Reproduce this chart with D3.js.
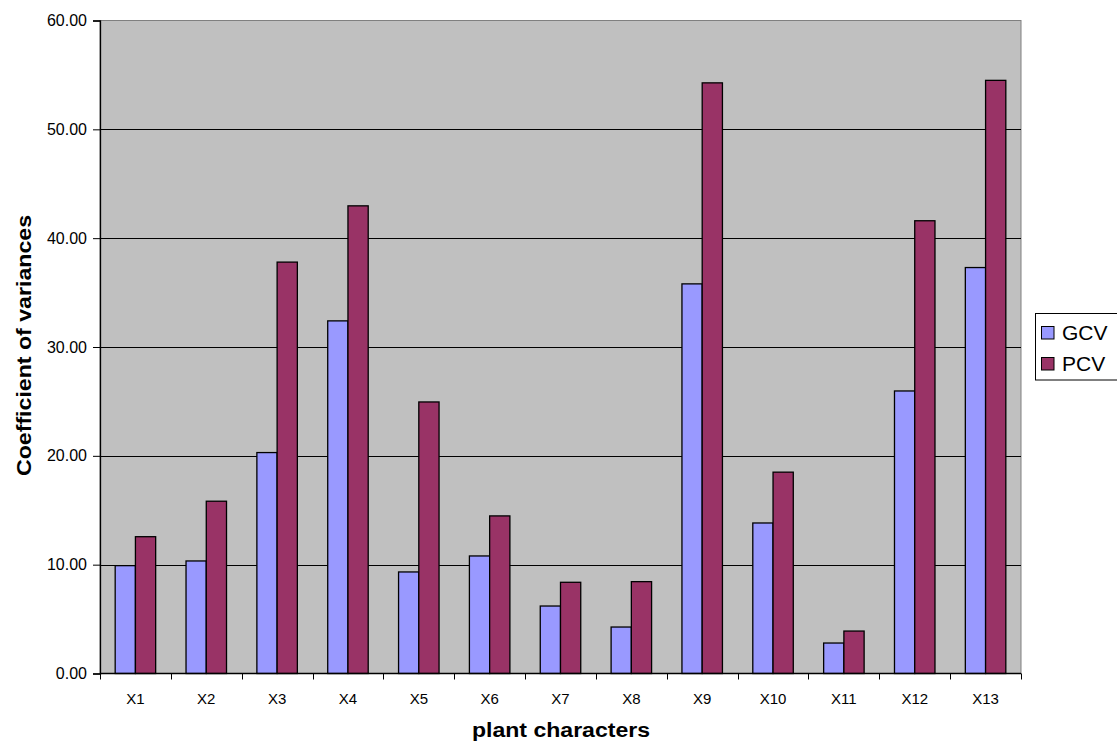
<!DOCTYPE html>
<html>
<head>
<meta charset="utf-8">
<script src="https://cdn.jsdelivr.net/npm/d3@7"></script>
<style>
  html, body { margin: 0; padding: 0; background: #ffffff; }
  svg { display: block; font-family: "Liberation Sans", Arial, sans-serif; }
</style>
</head>
<body>
<svg id="chart" width="1117" height="745"></svg>
<script>
// Plant characters and their coefficients of variation
const categories = ["X1","X2","X3","X4","X5","X6","X7","X8","X9","X10","X11","X12","X13"];
const gcv = [9.91, 10.34, 20.3, 32.4, 9.33, 10.8, 6.2, 4.27, 35.8, 13.83, 2.8, 25.96, 37.3];
const pcv = [12.57, 15.83, 37.8, 42.97, 24.95, 14.48, 8.38, 8.44, 54.27, 18.5, 3.9, 41.6, 54.5];
const seriesNames = ["GCV", "PCV"];
const seriesColors = ["#9999FF", "#993366"];
const yTicks = [0, 10, 20, 30, 40, 50, 60];

const svg = d3.select("#chart");
const plot = { left: 100, top: 20.5, right: 1021, bottom: 673.5 };

const x = d3.scaleBand().domain(categories).range([plot.left, plot.right]);
const sub = d3.scaleBand().domain(seriesNames).range([0, x.bandwidth()])
  .paddingInner(0).paddingOuter(0.75);
const y = d3.scaleLinear().domain([0, 60]).range([plot.bottom, plot.top]);

// plot background
svg.append("rect")
  .attr("x", plot.left).attr("y", plot.top)
  .attr("width", plot.right - plot.left).attr("height", plot.bottom - plot.top)
  .attr("fill", "#C0C0C0").attr("stroke", "#808080").attr("stroke-width", 1);

// horizontal gridlines
svg.append("g").selectAll("line")
  .data(yTicks.filter(t => t > 0 && t < 60))
  .join("line")
  .attr("x1", plot.left).attr("x2", plot.right)
  .attr("y1", d => Math.round(y(d)) + 0.5).attr("y2", d => Math.round(y(d)) + 0.5)
  .attr("stroke", "#000").attr("stroke-width", 1);

// bars
const rows = categories.map((c, i) => ({ cat: c, vals: [gcv[i], pcv[i]] }));
const groups = svg.append("g").selectAll("g")
  .data(rows).join("g")
  .attr("transform", d => `translate(${x(d.cat)},0)`);
groups.selectAll("rect")
  .data(d => d.vals.map((v, j) => ({ name: seriesNames[j], v, j })))
  .join("rect")
  .attr("x", d => sub(d.name))
  .attr("width", sub.bandwidth())
  .attr("y", d => y(d.v))
  .attr("height", d => y(0) - y(d.v))
  .attr("fill", d => seriesColors[d.j])
  .attr("stroke", "#000").attr("stroke-width", 1.3);

// y axis
const yAxis = d3.axisLeft(y).tickValues(yTicks).tickSize(7).tickPadding(6)
  .tickFormat(d3.format(".2f"));
const gy = svg.append("g").attr("transform", `translate(${plot.left},0)`).call(yAxis);
gy.select(".domain").attr("stroke", "#000").attr("stroke-width", 1.3);
gy.selectAll(".tick line").attr("stroke", "#000");
gy.selectAll(".tick text").attr("font-size", 16).attr("fill", "#000")
  .attr("font-family", "Liberation Sans, Arial, sans-serif");

// x axis: ticks at category boundaries
const boundaries = categories.map(c => x(c)).concat([plot.right]);
const gx = svg.append("g");
gx.append("line")
  .attr("x1", plot.left).attr("x2", plot.right)
  .attr("y1", plot.bottom).attr("y2", plot.bottom)
  .attr("stroke", "#000").attr("stroke-width", 1.3);
gx.selectAll("line.tk").data(boundaries).join("line").attr("class", "tk")
  .attr("x1", d => Math.round(d) + 0.5).attr("x2", d => Math.round(d) + 0.5)
  .attr("y1", plot.bottom).attr("y2", plot.bottom + 6)
  .attr("stroke", "#000");
gx.selectAll("text").data(categories).join("text")
  .attr("x", d => x(d) + x.bandwidth() / 2)
  .attr("y", 704)
  .attr("text-anchor", "middle")
  .attr("font-size", 15)
  .text(d => d);

// axis titles
svg.append("text")
  .attr("x", 561).attr("y", 737)
  .attr("text-anchor", "middle")
  .attr("font-size", 20).attr("font-weight", "bold")
  .attr("textLength", 178).attr("lengthAdjust", "spacingAndGlyphs")
  .text("plant characters");
svg.append("text")
  .attr("transform", "translate(31,345.5) rotate(-90)")
  .attr("text-anchor", "middle")
  .attr("font-size", 20).attr("font-weight", "bold")
  .attr("textLength", 261).attr("lengthAdjust", "spacingAndGlyphs")
  .text("Coefficient of variances");

// legend
const legend = svg.append("g");
legend.append("rect")
  .attr("x", 1035.5).attr("y", 313.5).attr("width", 100).attr("height", 66.5)
  .attr("fill", "#fff").attr("stroke", "#000").attr("stroke-width", 1);
const items = legend.selectAll("g.item").data(seriesNames).join("g").attr("class", "item")
  .attr("transform", (d, i) => `translate(0,${i * 31})`);
items.append("rect")
  .attr("x", 1041.5).attr("y", 326.5).attr("width", 12.5).attr("height", 12.5)
  .attr("fill", (d, i) => seriesColors[i]).attr("stroke", "#000");
items.append("text")
  .attr("x", 1062).attr("y", 339.5)
  .attr("font-size", 21)
  .text(d => d);
</script>
</body>
</html>
